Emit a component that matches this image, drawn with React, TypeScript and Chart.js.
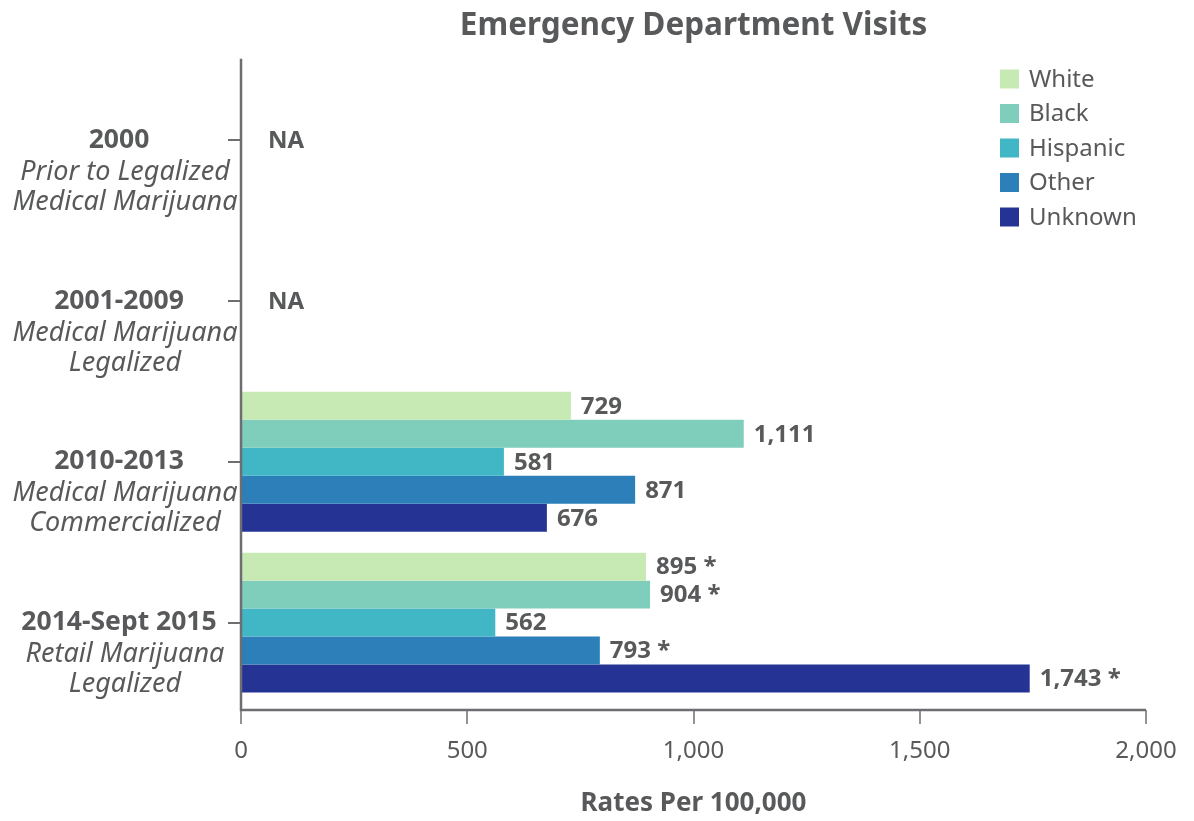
import React, { useEffect, useRef } from "react";
import { Chart, registerables } from "chart.js";

Chart.register(...registerables);

const chartTitle = "Emergency Department Visits";
const xAxisTitle = "Rates Per 100,000";
const categories = ["2000", "2001-2009", "2010-2013", "2014-Sept 2015"];
const categorySubtitles = [
  ["Prior to Legalized", "Medical Marijuana"],
  ["Medical Marijuana", "Legalized"],
  ["Medical Marijuana", "Commercialized"],
  ["Retail Marijuana", "Legalized"],
];
const seriesNames = ["White", "Black", "Hispanic", "Other", "Unknown"];
const seriesColors = ["#c7e9b4", "#7fcdbb", "#41b6c4", "#2c7fb8", "#253494"];
const whiteValues = [null, null, 729, 895];
const blackValues = [null, null, 1111, 904];
const hispanicValues = [null, null, 581, 562];
const otherValues = [null, null, 871, 793];
const unknownValues = [null, null, 676, 1743];
const whiteSignificant = [false, false, false, true];
const blackSignificant = [false, false, false, true];
const hispanicSignificant = [false, false, false, false];
const otherSignificant = [false, false, false, true];
const unknownSignificant = [false, false, false, true];
const xMin = 0;
const xMax = 2000;
const xStep = 500;
const missingLabel = "NA";

const seriesValues = [whiteValues, blackValues, hispanicValues, otherValues, unknownValues];
const seriesSignificant = [whiteSignificant, blackSignificant, hispanicSignificant, otherSignificant, unknownSignificant];

const TEXT = "#58595b";
const AXIS = "#6d6e71";
const FONT = "'Noto Sans', 'Open Sans', sans-serif";

const overlayPlugin = {
  id: "overlay",
  afterDraw(chart: any) {
    const { ctx, chartArea } = chart;
    const xs = chart.scales.x;
    const ys = chart.scales.y;
    const axisY = chartArea.bottom + 7;
    ctx.save();
    // axis lines
    ctx.strokeStyle = AXIS;
    ctx.lineWidth = 2.5;
    ctx.beginPath();
    ctx.moveTo(chartArea.left, chartArea.top - 1);
    ctx.lineTo(chartArea.left, axisY);
    ctx.lineTo(chartArea.right, axisY);
    ctx.stroke();
    ctx.lineWidth = 1.5;
    xs.ticks.forEach((t: any) => {
      const px = Math.round(xs.getPixelForValue(t.value));
      ctx.beginPath();
      ctx.moveTo(px, axisY);
      ctx.lineTo(px, axisY + 14);
      ctx.stroke();
    });

    // category labels
    ctx.fillStyle = TEXT;
    ctx.textAlign = "center";
    ctx.textBaseline = "middle";
    categories.forEach((cat, i) => {
      const py = ys.getPixelForValue(i);
      ctx.font = `bold 26.5px ${FONT}`;
      ctx.fillText(cat, 119, py);
      ctx.font = `italic 27px ${FONT}`;
      categorySubtitles[i].forEach((line, j) => {
        ctx.fillText(line, 125, py + 32 + j * 30);
      });
    });

    // value labels
    ctx.textAlign = "left";
    ctx.font = `bold 24px ${FONT}`;
    chart.data.datasets.forEach((ds: any, di: number) => {
      const meta = chart.getDatasetMeta(di);
      meta.data.forEach((el: any, i: number) => {
        const v = ds.data[i];
        if (v === null || v === undefined) return;
        const txt = v.toLocaleString("en-US") + (seriesSignificant[di][i] ? " *" : "");
        ctx.fillText(txt, el.x + 10, el.y + 1);
      });
    });

    // NA labels
    categories.forEach((cat, i) => {
      const allMissing = seriesValues.every((arr) => arr[i] === null);
      if (allMissing) {
        ctx.fillText(missingLabel, xs.getPixelForValue(0) + 27, ys.getPixelForValue(i) + 1);
      }
    });

    // legend
    ctx.font = `24px ${FONT}`;
    seriesNames.forEach((name, i) => {
      const cy = 79 + i * 34.5;
      ctx.fillStyle = seriesColors[i];
      ctx.fillRect(1000, cy - 9.5, 19, 19);
      ctx.fillStyle = TEXT;
      ctx.fillText(name, 1029, cy + 1);
    });
    ctx.restore();
  },
};

export default function App() {
  const canvasRef = useRef<HTMLCanvasElement | null>(null);

  useEffect(() => {
    if (!canvasRef.current) return;
    const chart = new Chart(canvasRef.current, {
      type: "bar",
      data: {
        labels: categories,
        datasets: seriesNames.map((name, i) => ({
          label: name,
          data: seriesValues[i] as any,
          backgroundColor: seriesColors[i],
          borderWidth: 0,
          categoryPercentage: 0.87,
          barPercentage: 1,
        })),
      },
      options: {
        indexAxis: "y",
        animation: false,
        responsive: true,
        maintainAspectRatio: false,
        layout: { padding: { left: 0, right: 48, top: 0, bottom: 0 } },
        plugins: {
          legend: { display: false },
          tooltip: { enabled: false },
          title: {
            display: true,
            text: chartTitle,
            fullSize: false,
            color: TEXT,
            font: { family: FONT, size: 31.5, weight: "bold" },
            padding: { top: 7, bottom: 15 },
          },
        },
        scales: {
          x: {
            type: "linear",
            min: xMin,
            max: xMax,
            afterFit: (s: any) => {
              s.height = 118;
            },
            border: { display: false },
            grid: {
              display: true,
              drawOnChartArea: false,
              drawTicks: true,
              tickLength: 21,
              color: "rgba(0,0,0,0)",
            },
            ticks: {
              stepSize: xStep,
              padding: 13,
              color: TEXT,
              font: { family: FONT, size: 24 },
              callback: (v: any) => Number(v).toLocaleString("en-US"),
            },
            title: {
              display: true,
              text: xAxisTitle,
              color: TEXT,
              font: { family: FONT, size: 26, weight: "bold" },
              padding: { top: 0, bottom: 2 },
            },
          },
          y: {
            type: "category",
            afterFit: (s: any) => {
              s.width = 241;
            },
            border: { display: false },
            grid: {
              display: true,
              offset: false,
              drawOnChartArea: false,
              drawTicks: true,
              tickLength: 13,
              color: AXIS,
              lineWidth: 2,
            },
            ticks: { display: false },
          },
        },
      },
      plugins: [overlayPlugin],
    });
    return () => chart.destroy();
  }, []);

  return (
    <div style={{ position: "fixed", left: 0, top: 0, width: 1194, height: 821, background: "#fff" }}>
      <canvas ref={canvasRef} />
    </div>
  );
}
